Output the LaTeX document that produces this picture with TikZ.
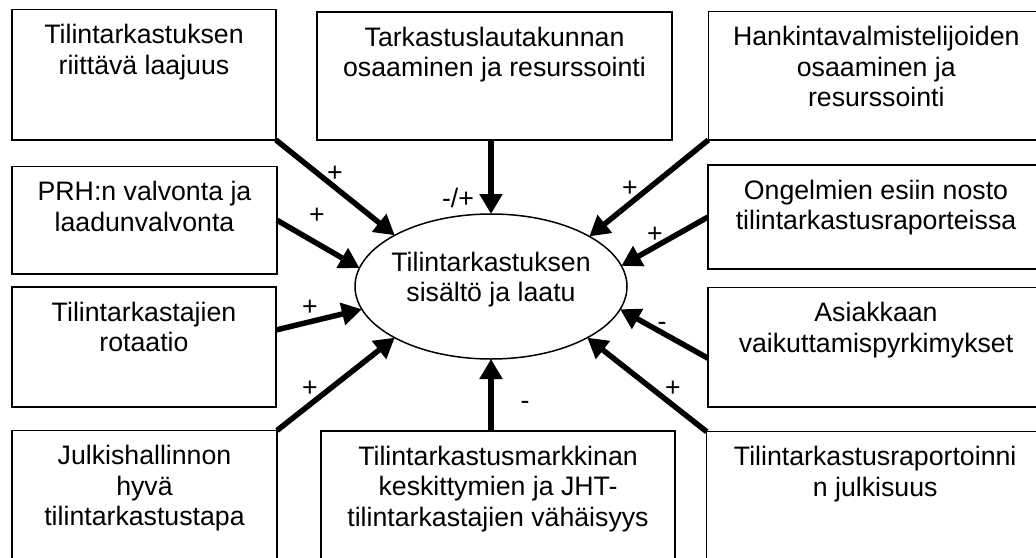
\documentclass[tikz,border=0pt]{standalone}
\usepackage{fontspec}
\setmainfont{Liberation Sans}
\usetikzlibrary{arrows.meta,shapes.geometric,calc}
\newcommand{\boxtxt}[3]{\parbox[t][#2][t]{#1}{\centering\rule{0pt}{34pt}#3\par}}
\tikzset{
  txt/.style={font=\fontsize{26.7}{30.5}\selectfont},
  factor/.style={txt, draw, line width=1.3pt, inner sep=0pt, outer sep=0pt, anchor=north west, fill=white},
  arr/.style={line width=5.5pt, -{Triangle[length=20pt,width=22pt]}},
  sign/.style={txt, inner sep=0pt, anchor=base},
}
\begin{document}
\begin{tikzpicture}[x=1pt,y=-1pt]
\useasboundingbox (0,0) rectangle (1036,557);
\fill[white] (0,0) rectangle (1036,557);
\clip (0,0) rectangle (1036,557);
% left column
\node[factor] (b1) at (12,9.5) {\boxtxt{264pt}{130.5pt}{Tilintarkastuksen\\riittävä laajuus}};
\node[factor] (prh) at (12,166.5) {\boxtxt{265pt}{107.5pt}{PRH:n valvonta ja\\laadunvalvonta}};
\node[factor] (rot) at (12,287) {\boxtxt{264pt}{120pt}{Tilintarkastajien\\rotaatio}};
\node[factor] (julk) at (12,430.5) {\boxtxt{265pt}{150pt}{Julkishallinnon\\hyvä\\tilintarkastustapa}};
% middle column
\node[factor] (tark) at (317,12) {\boxtxt{355pt}{128pt}{Tarkastuslautakunnan\\osaaminen ja resurssointi}};
\node[factor] (bot) at (321,431) {\boxtxt{354pt}{150pt}{Tilintarkastusmarkkinan\\keskittymien ja JHT-\\tilintarkastajien vähäisyys}};
% right column
\node[factor] (hank) at (708.3,11.7) {\boxtxt{336pt}{128.3pt}{Hankintavalmistelijoiden\\osaaminen ja\\resurssointi}};
\node[factor] (ong) at (708,165) {\boxtxt{336pt}{104pt}{Ongelmien esiin nosto\\tilintarkastusraporteissa}};
\node[factor] (asi) at (708,287.5) {\boxtxt{336pt}{119.5pt}{Asiakkaan\\vaikuttamispyrkimykset}};
\node[factor] (rap) at (706.7,431.7) {\boxtxt{337pt}{150pt}{Tilintarkastusraportoinni\\n julkisuus}};
% centre
\node[ellipse, draw, line width=1.5pt, fill=white, minimum width=272pt, minimum height=145pt, inner sep=0pt, outer sep=0pt] (ell) at (491,286.5) {};
\node[txt, align=center, inner sep=0pt] (ellt) at ([yshift=7pt]ell.center) {Tilintarkastuksen\\sisältö ja laatu};
% connectors
\draw[arr] (b1.south east) -- (ell.152);
\draw[arr] (prh.east) -- (ell.172);
\draw[arr] ($(rot.east)+(0,-17)$) -- (ell.190);
\draw[arr] (julk.north east) -- (ell.208);
\draw[arr] (tark.south -| ell.north) -- (ell.north);
\draw[arr] (hank.south west) -- (ell.27);
\draw[arr] (ong.west) -- (ell.9);
\draw[arr] ($(asi.west)+(0,11)$) -- (ell.-10);
\draw[arr] (rap.north west) -- (ell.-28);
\draw[arr] (bot.north -| ell.south) -- (ell.south);
% signs
\node[sign] (s1) at (335,181) {+};
\node[sign] (s2) at (317,223) {+};
\node[sign] (s3) at (310,315) {+};
\node[sign] (s4) at (310,396) {+};
\node[sign] (s5) at (458,207) {-/+};
\node[sign] (s6) at (630,196) {+};
\node[sign] (s7) at (655,242) {+};
\node[sign] (s8) at (662,330) {-};
\node[sign] (s9) at (673,396) {+};
\node[sign] (s10) at (525,409) {-};
\end{tikzpicture}
\end{document}
